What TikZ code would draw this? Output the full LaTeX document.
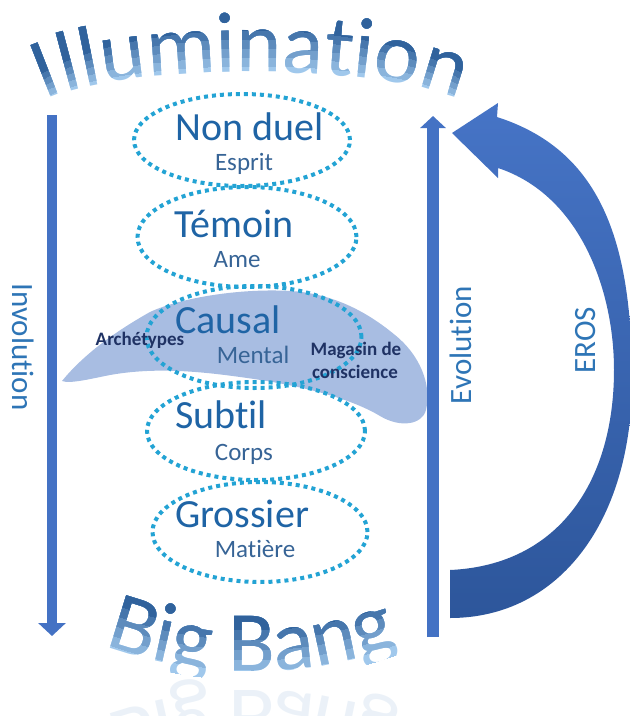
\documentclass[tikz,border=0pt]{standalone}
\usepackage{fontspec}
\setmainfont{Carlito}[Ligatures={NoCommon}]
\usetikzlibrary{decorations.text,shapes.geometric,arrows.meta}
\definecolor{lvltext}{RGB}{31,100,165}
\definecolor{subtext}{RGB}{55,100,150}
\definecolor{dotcol}{RGB}{35,163,212}
\definecolor{arrowblue}{RGB}{68,114,196}
\definecolor{erostop}{RGB}{70,116,198}
\definecolor{erosbot}{RGB}{45,86,155}
\definecolor{cloudfill}{RGB}{168,189,226}
\definecolor{navy}{RGB}{31,50,100}
\definecolor{labelblue}{RGB}{46,117,182}
\definecolor{titlelight}{RGB}{160,200,236}
\definecolor{titledark}{RGB}{48,98,156}
\newcommand{\illufont}{\fontsize{86}{86}\selectfont}
\newcommand{\bbfont}{\fontsize{86}{86}\selectfont}
\begin{document}
\begin{tikzpicture}[x=1pt,y=-1pt,
  ring/.style={ellipse, draw=dotcol, line width=4pt, dash pattern=on 4pt off 4pt, inner sep=0pt},
  lvl/.style={anchor=base, text=lvltext, font=\fontsize{40}{40}\selectfont, inner sep=0pt},
  sublvl/.style={anchor=base, text=subtext, font=\fontsize{25}{25}\selectfont, inner sep=0pt},
  note/.style={anchor=base, text=navy, font=\bfseries\fontsize{19}{19}\selectfont, inner sep=0pt},
  sidelabel/.style={text=labelblue, font=\fontsize{31}{31}\selectfont, inner sep=0pt},
  shaft/.style={draw=arrowblue, line width=#1},
]
\useasboundingbox (0,0) rectangle (630,716);

% cloud (archetypes / magasin de conscience)
\fill[cloudfill] (62,381) .. controls (75,365) and (100,340) .. (150,312)
 .. controls (180,298) and (240,288) .. (290,291)
 .. controls (330,293) and (365,310) .. (395,335)
 .. controls (420,355) and (432,385) .. (426,410)
 .. controls (422,425) and (400,428) .. (380,416)
 .. controls (350,398) and (300,385) .. (240,377)
 .. controls (190,370) and (150,368) .. (110,375)
 .. controls (90,379) and (70,384) .. (62,381) -- cycle;

% dotted rings
\node[ring, minimum width=216pt, minimum height=92pt] (ndring) at (242,140) {};
\node[ring, minimum width=219pt, minimum height=100pt] (tering) at (247,237) {};
\node[ring, minimum width=215pt, minimum height=102pt] (caring) at (254,337) {};
\node[ring, minimum width=218pt, minimum height=98pt] (suring) at (256,431) {};
\node[ring, minimum width=215pt, minimum height=100pt] (grring) at (260,532) {};

% level texts
\node[lvl] (nd) at (250,140) {Non duel};
\node[sublvl] (es) at (244,170) {Esprit};
\node[lvl] (te) at (234,237) {Témoin};
\node[sublvl] (am) at (237,267) {Ame};
\node[lvl] (ca) at (228,333) {Causal};
\node[sublvl] (me) at (253,363) {Mental};
\node[lvl] (su) at (221,428) {Subtil};
\node[sublvl] (co) at (244,460) {Corps};
\node[lvl] (gr) at (242,527) {Grossier};
\node[sublvl] (ma) at (255,557) {Matière};

% notes on the cloud
\node[note] (arch) at (140,345) {Archétypes};
\node[note] (mag1) at (356,355) {Magasin de};
\node[note] (mag2) at (355,378) {conscience};

% vertical arrows
\coordinate (invtop) at (52,115);
\coordinate (invbot) at (52,636);
\draw[shaft=10pt, -{Triangle[width=27pt,length=13pt]}] (invtop) -- (invbot);
\coordinate (evobot) at (433,637);
\coordinate (evotop) at (433,116);
\draw[shaft=12pt, -{Triangle[width=25pt,length=12pt]}] (evobot) -- (evotop);

% EROS curved arrow
\shade[top color=erostop, bottom color=erosbot]
 (450,618) .. controls (560,618) and (632,520) .. (632,380)
 .. controls (632,240) and (600,150) .. (497,117)
 -- (498,103) -- (452,133) -- (498,178) -- (498,168)
 .. controls (580,195) and (614,290) .. (614,370)
 .. controls (614,480) and (560,565) .. (450,570) -- cycle;

% side labels
\node[sidelabel, rotate=-90] (invlab) at (23,347) {Involution};
\node[sidelabel, rotate=90] (evolab) at (461,345) {Evolution};
\node[sidelabel, rotate=90] (eroslab) at (586,340) {EROS};

% arched title: Illumination, gradient built from clipped layers
\foreach \i in {0,...,5}{
  \pgfmathtruncatemacro\p{\i*20}
  \pgfmathsetmacro\d{\i*9}
  \colorlet{tc}{titledark!\p!titlelight}
  \begin{scope}
    \clip (0,0) -- (0,118) -- ({30-\d/2},118) arc[start angle=180, end angle=360, x radius={222+\d/2}, y radius={43+\d}] -- (630,118) -- (630,0) -- cycle;
    \path[decorate, decoration={text along path, text align=center, text color=tc,
      text={|\illufont|Illumination}}]
      (252,115) ++(-176:220 and 43) arc[start angle=-176, end angle=-4, x radius=220, y radius=43];
  \end{scope}
}

% arched title: Big Bang, gradient built from clipped layers
\foreach \i in {0,...,5}{
  \pgfmathtruncatemacro\p{\i*20}
  \pgfmathsetmacro\d{\i*10}
  \colorlet{tc}{titledark!\p!titlelight}
  \begin{scope}
    \clip (252,252) circle[radius={428-\d}];
    \path[decorate, decoration={text along path, text align=center, text color=tc,
      text={|\bbfont|Big Bang}}]
      (252,252) ++(125:420) arc[start angle=125, end angle=55, radius=420];
  \end{scope}
}
% faint reflection of Big Bang
\begin{scope}[transform canvas={yshift=-1362pt, yscale=-1}, opacity=0.14]
\path[decorate, decoration={text along path, text align=center, text color=titlelight!60!titledark,
  text={|\bbfont|Big Bang}}]
  (252,252) ++(125:420) arc[start angle=125, end angle=55, radius=420];
\end{scope}
\end{tikzpicture}
\end{document}
